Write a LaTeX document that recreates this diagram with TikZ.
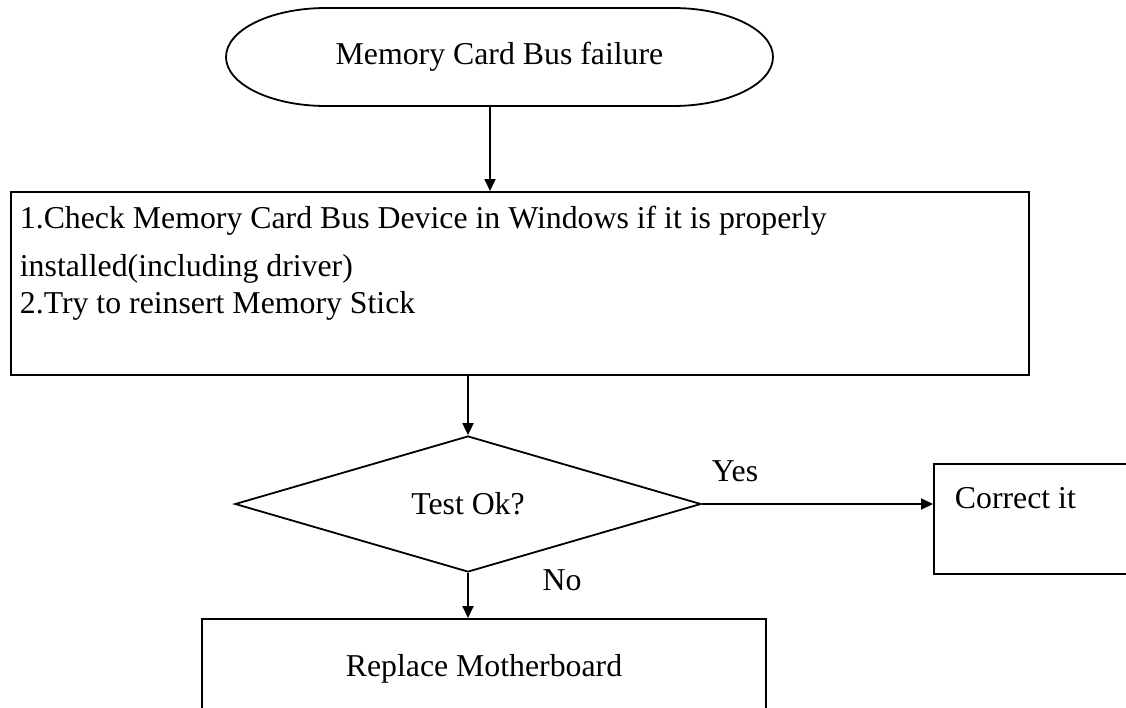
\documentclass[tikz,border=0pt]{standalone}
\usepackage{fontspec}
\setmainfont{Liberation Serif}
\usetikzlibrary{arrows.meta,shapes.geometric}

\begin{document}
\begin{tikzpicture}[x=1pt, y=-1pt, line width=1.8pt,
  font=\fontsize{31.8}{37}\selectfont,
  arr/.style={-{Triangle[length=12pt,width=11pt]}},
  box/.style={draw, rectangle, inner xsep=0pt, text height=22pt}]
  \useasboundingbox (0,0) rectangle (1126,707);
  \clip (0,0) rectangle (1126,707);

  \node[minimum width=547pt, minimum height=98pt, inner sep=0pt, outer sep=0pt] (start) at (499.5,57) {Memory Card Bus failure};
  \draw ([xshift=100pt]start.north west) -- ([xshift=-100pt]start.north east)
        arc[start angle=90, end angle=-90, x radius=100pt, y radius=49pt]
        -- ([xshift=100pt]start.south west)
        arc[start angle=270, end angle=90, x radius=100pt, y radius=49pt] -- cycle;

  \node[box, anchor=north west, inner xsep=9pt, inner ysep=15pt, text width=1000pt, text depth=131pt, align=flush left] (check) at (10,191)
    {1.Check Memory Card Bus Device in Windows if it is properly\\[11pt]
     installed(including driver)\\
     2.Try to reinsert Memory Stick};
  \node[draw, diamond, minimum width=466pt, minimum height=126pt, inner sep=0pt] (test) at (468,504) {Test Ok?};
  \node[box, anchor=north west, inner xsep=21pt, inner ysep=23pt, text width=218pt, text depth=42pt, align=flush left] (fix) at (933,463) {Correct it};
  \node[box, anchor=north, inner ysep=36pt, minimum width=564pt, text depth=80pt] (board) at (484,618) {Replace Motherboard};
  \node[anchor=base] (yes) at (735,481) {Yes};
  \node[anchor=base] (no) at (562,590) {No};

  \draw[arr] ([xshift=-9.5pt]start.south) -- ([xshift=-9.5pt]start.south |- check.north);
  \draw[arr] (test.north |- check.south) -- (test.north);
  \draw[arr] (test.east) -- (test.east -| fix.west);
  \draw[arr] (test.south) -- (test.south |- board.north);
\end{tikzpicture}
\end{document}
